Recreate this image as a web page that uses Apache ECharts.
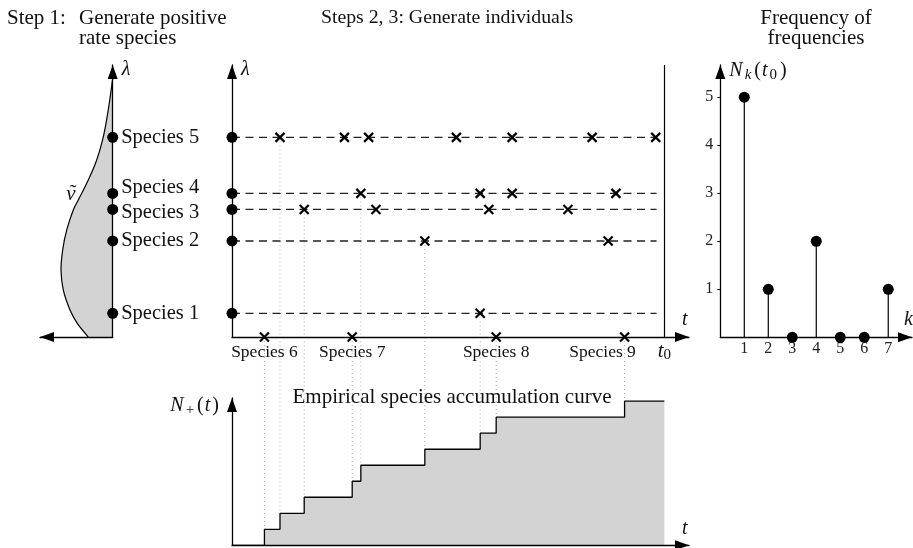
<!DOCTYPE html>
<html>
<head>
<meta charset="utf-8">
<script src="https://cdn.jsdelivr.net/npm/echarts@6.0.0/dist/echarts.min.js"></script>
<style>
  html, body { margin: 0; padding: 0; background: #fff; }
  #main { width: 913px; height: 548px; }
</style>
</head>
<body>
<div id="main"></div>
<script>
// rates of the five positive-rate species (lambda)
const speciesNames = ['Species 1', 'Species 2', 'Species 3', 'Species 4', 'Species 5'];
const speciesRate = [0.87, 3.53, 4.69, 5.28, 7.34];
// times at which each species is observed
const speciesEvents = [
  [57.4],
  [44.6, 87.0],
  [16.7, 33.3, 59.4, 77.7],
  [29.8, 57.4, 64.8, 88.8],
  [11.1, 26.0, 31.6, 51.9, 64.8, 83.3, 98.0]
];
// singletons that show up on the time axis
const newSpeciesNames = ['Species 6', 'Species 7', 'Species 8', 'Species 9'];
const newSpeciesTimes = [7.5, 27.8, 61.1, 90.8];
const t0 = 100;
const observedUntil = 98.2;

// density nu~ of the rates
const densityLambda = [0, 0.50, 0.99, 1.73, 2.46, 3.20, 3.93, 4.67, 5.04, 5.77, 6.51, 7.36, 8.35, 9.5];
const densityValue = [0.336, 0.487, 0.587, 0.680, 0.711, 0.688, 0.633, 0.542, 0.473, 0.336, 0.220, 0.129, 0.061, 0];

// species accumulation curve N+(t)
const accumTimes = [0, 7.5, 11.1, 16.7, 27.8, 29.8, 44.6, 57.4, 61.1, 90.8, 100];
const accumCount = [0, 1, 2, 3, 4, 5, 6, 7, 8, 9, 9];

// frequency of frequencies N_k(t0)
const freqK = [1, 2, 3, 4, 5, 6, 7];
const freqCount = [5, 1, 0, 2, 0, 0, 1];
const freqTicks = [1, 2, 3, 4, 5];

const SERIF = "'Liberation Serif', 'DejaVu Serif', serif";
const INK = '#111';

const math = {
  i: { fontFamily: SERIF, fontStyle: 'italic', fontSize: 20, color: INK, lineHeight: 24, padding: [0, 1, 0, 0] },
  n: { fontFamily: SERIF, fontSize: 20, color: INK, lineHeight: 24, padding: [0, 1, 0, 1] },
  s: { fontFamily: SERIF, fontSize: 15, color: INK, lineHeight: 12, verticalAlign: 'bottom', padding: [0, 2, 0, 1] },
  si: { fontFamily: SERIF, fontStyle: 'italic', fontSize: 15, color: INK, lineHeight: 12, verticalAlign: 'bottom', padding: [0, 2, 0, 1] },
  ti: { fontFamily: SERIF, fontStyle: 'italic', fontSize: 21, color: INK, lineHeight: 24 },
  ts: { fontFamily: SERIF, fontSize: 15, color: INK, lineHeight: 12, verticalAlign: 'bottom' }
};

function axisLine (atStart) {
  return {
    show: true,
    onZero: true,
    symbol: atStart ? ['triangle', 'none'] : ['none', 'triangle'],
    symbolSize: [10, 14],
    symbolOffset: atStart ? [7, 0] : [0, -7],
    lineStyle: { color: '#000', width: 1.3 }
  };
}

function plainAxis (opts, atStart) {
  return Object.assign({
    type: 'value',
    z: 3,
    axisLine: axisLine(atStart),
    axisTick: { show: false },
    axisLabel: { show: false },
    splitLine: { show: false }
  }, opts);
}

const titleFont = { fontFamily: SERIF, fontWeight: 'normal', fontSize: 21, color: INK, lineHeight: 20 };
const speciesLabelOffset = { 'Species 4': [0, -6], 'Species 3': [0, 3] };
const newLabelOffset = { 'Species 9': [-22, 0] };

// catmull-rom through the density samples
function smoothPath (pts) {
  let d = 'M' + pts[0][0] + ',' + pts[0][1];
  for (let i = 0; i < pts.length - 1; i++) {
    const p0 = pts[i - 1] || pts[i];
    const p1 = pts[i];
    const p2 = pts[i + 1];
    const p3 = pts[i + 2] || p2;
    const c1 = [p1[0] + (p2[0] - p0[0]) / 6, p1[1] + (p2[1] - p0[1]) / 6];
    const c2 = [p2[0] - (p3[0] - p1[0]) / 6, p2[1] - (p3[1] - p1[1]) / 6];
    d += 'C' + c1.join(',') + ' ' + c2.join(',') + ' ' + p2.join(',');
  }
  return d;
}

const chart = echarts.init(document.getElementById('main'));

const dashedSeries = speciesRate.map(function (lam) {
  return {
    type: 'line',
    xAxisIndex: 1,
    yAxisIndex: 1,
    symbol: 'none',
    silent: true,
    lineStyle: { color: '#222', width: 1.3, type: [8, 5.5] },
    data: [[0, lam], [observedUntil, lam]],
    z: 1
  };
});

const crossData = [];
speciesEvents.forEach(function (ev, i) {
  ev.forEach(function (t) { crossData.push([t, speciesRate[i]]); });
});

const CROSS = 'path://M0,0L10,10M10,0L0,10';
const crossStyle = { color: 'rgba(0,0,0,0)', borderColor: '#000', borderWidth: 2.2, opacity: 1 };

chart.setOption({
  animation: false,
  backgroundColor: '#fff',
  title: [
    { text: 'Step 1:', left: 7, top: 8, padding: 0, textStyle: titleFont },
    { text: 'Generate positive\nrate species', left: 79, top: 8, padding: 0, textStyle: titleFont },
    { text: 'Steps 2, 3: Generate individuals', left: 447, textAlign: 'center', top: 8, padding: 0, textStyle: Object.assign({}, titleFont, { fontSize: 19.8 }) },
    { text: 'Frequency of\nfrequencies', left: 816, textAlign: 'center', top: 8, padding: 0, textStyle: titleFont },
    { text: 'Empirical species accumulation curve', left: 452, textAlign: 'center', top: 387, padding: 0, textStyle: titleFont },
    { text: 'ν', left: 71, textAlign: 'center', top: 194, textVerticalAlign: 'middle', padding: 0, textStyle: { fontFamily: SERIF, fontStyle: 'italic', fontWeight: 'normal', fontSize: 21, color: INK } },
    { text: '˜', left: 73, textAlign: 'center', top: 193, textVerticalAlign: 'middle', padding: 0, textStyle: { fontFamily: SERIF, fontWeight: 'normal', fontSize: 21, color: INK } }
  ],
  grid: [
    { left: 40, top: 65, width: 72.7, height: 272, outerBoundsMode: 'none' },
    { left: 232, top: 65, width: 457, height: 272, outerBoundsMode: 'none' },
    { left: 232, top: 398, width: 457, height: 147.3, outerBoundsMode: 'none' },
    { left: 720.3, top: 65, width: 191.7, height: 272.3, outerBoundsMode: 'none' }
  ],
  xAxis: [
    // density axis points left: plotted as negative values
    plainAxis({ gridIndex: 0, min: -1, max: 0 }, true),
    plainAxis({
      gridIndex: 1, min: 0, max: 105.7,
      name: 't', nameLocation: 'end', nameGap: -7,
      nameTextStyle: { fontFamily: SERIF, fontStyle: 'italic', fontSize: 20, color: INK, align: 'left', verticalAlign: 'bottom', padding: [0, 0, 7, 0] },
      axisLabel: { show: true, customValues: [t0], margin: 2, formatter: function () { return '{ti|t}{ts|0}'; }, rich: math }
    }),
    plainAxis({
      gridIndex: 2, min: 0, max: 105.7,
      name: 't', nameLocation: 'end', nameGap: -7,
      nameTextStyle: { fontFamily: SERIF, fontStyle: 'italic', fontSize: 20, color: INK, align: 'left', verticalAlign: 'bottom', padding: [0, 0, 7, 0] }
    }),
    plainAxis({
      gridIndex: 3, min: 0, max: 7.99,
      name: 'k', nameLocation: 'end', nameGap: -8,
      nameTextStyle: { fontFamily: SERIF, fontStyle: 'italic', fontSize: 20, color: INK, align: 'left', verticalAlign: 'bottom', padding: [0, 0, 8, 0] },
      axisLabel: { show: true, customValues: freqK, margin: 3, fontFamily: SERIF, fontSize: 16, color: '#222' }
    })
  ],
  yAxis: [
    plainAxis({
      gridIndex: 0, min: 0, max: 10,
      name: 'λ', nameLocation: 'end', nameGap: 5,
      nameTextStyle: { fontFamily: SERIF, fontStyle: 'italic', fontSize: 20, color: INK, align: 'left', verticalAlign: 'top', padding: [0, 0, 0, 9] }
    }),
    plainAxis({
      gridIndex: 1, min: 0, max: 10,
      name: 'λ', nameLocation: 'end', nameGap: 5,
      nameTextStyle: { fontFamily: SERIF, fontStyle: 'italic', fontSize: 20, color: INK, align: 'left', verticalAlign: 'top', padding: [0, 0, 0, 9] }
    }),
    plainAxis({
      gridIndex: 2, min: 0, max: 9.2,
      name: '{i|N}{s|+}{n|(}{i|t}{n|)}', nameLocation: 'end', nameGap: 4,
      nameTextStyle: { align: 'right', verticalAlign: 'top', padding: [0, 12, 0, 0], rich: math }
    }),
    plainAxis({
      gridIndex: 3, min: 0, max: 5.67,
      name: '{i|N}{si|k}{n|(}{i|t}{s|0}{n|)}', nameLocation: 'end', nameGap: 6,
      nameTextStyle: { align: 'left', verticalAlign: 'top', padding: [0, 0, 0, 9], rich: math },
      axisTick: { show: true, customValues: freqTicks, length: 3, lineStyle: { color: '#000', width: 1 } },
      axisLabel: { show: true, customValues: freqTicks, margin: 7, fontFamily: SERIF, fontSize: 16, color: '#222' }
    })
  ],
  series: [
    {
      type: 'custom',
      xAxisIndex: 0,
      yAxisIndex: 0,
      silent: true,
      clip: false,
      data: [[0, 0]],
      renderItem: function (params, api) {
        const pts = densityLambda.map(function (lam, i) { return api.coord([-densityValue[i], lam]); });
        const curve = smoothPath(pts);
        const top = api.coord([0, densityLambda[densityLambda.length - 1]]);
        const bottom = api.coord([0, densityLambda[0]]);
        const fill = curve + 'L' + top.join(',') + 'L' + bottom.join(',') + 'Z';
        return {
          type: 'group',
          children: [
            { type: 'path', shape: { pathData: fill }, style: { fill: '#d3d3d3', stroke: 'none' } },
            { type: 'path', shape: { pathData: curve }, style: { fill: 'none', stroke: '#000', lineWidth: 1.2 } }
          ]
        };
      },
      z: 1
    },
    {
      type: 'scatter',
      xAxisIndex: 0,
      yAxisIndex: 0,
      symbolSize: 11,
      clip: false,
      itemStyle: { color: '#000', opacity: 1 },
      label: {
        show: true, position: 'right', distance: 3, formatter: '{b}',
        fontFamily: SERIF, fontSize: 20.5, color: INK
      },
      data: speciesRate.map(function (lam, i) {
        const item = { name: speciesNames[i], value: [0, lam] };
        if (speciesLabelOffset[speciesNames[i]]) item.label = { offset: speciesLabelOffset[speciesNames[i]] };
        return item;
      }),
      z: 5
    }
  ].concat(dashedSeries).concat([
    {
      type: 'scatter',
      xAxisIndex: 1,
      yAxisIndex: 1,
      symbolSize: 11,
      clip: false,
      itemStyle: { color: '#000', opacity: 1 },
      data: speciesRate.map(function (lam) { return [0, lam]; }),
      z: 5
    },
    {
      type: 'scatter',
      xAxisIndex: 1,
      yAxisIndex: 1,
      symbol: CROSS,
      symbolSize: 9,
      itemStyle: crossStyle,
      data: crossData,
      markLine: {
        silent: true,
        symbol: 'none',
        label: { show: false },
        lineStyle: { color: '#000', width: 1.2, type: 'solid' },
        data: [{ xAxis: t0 }]
      },
      z: 5
    },
    {
      type: 'scatter',
      xAxisIndex: 1,
      yAxisIndex: 1,
      symbol: CROSS,
      symbolSize: 9,
      clip: false,
      itemStyle: crossStyle,
      label: {
        show: true, position: 'bottom', distance: 1, formatter: '{b}',
        fontFamily: SERIF, fontSize: 17.5, color: INK
      },
      data: newSpeciesTimes.map(function (t, i) {
        const item = { name: newSpeciesNames[i], value: [t, 0] };
        if (newLabelOffset[newSpeciesNames[i]]) item.label = { offset: newLabelOffset[newSpeciesNames[i]] };
        return item;
      }),
      z: 5
    },
    {
      type: 'line',
      xAxisIndex: 2,
      yAxisIndex: 2,
      step: 'end',
      symbol: 'none',
      silent: true,
      clip: false,
      lineStyle: { color: '#000', width: 1.3 },
      areaStyle: { color: '#d3d3d3', opacity: 1 },
      data: accumTimes.map(function (t, i) { return [t, accumCount[i]]; })
    },
    {
      type: 'bar',
      xAxisIndex: 3,
      yAxisIndex: 3,
      barWidth: 1.2,
      silent: true,
      itemStyle: { color: '#000' },
      data: freqK.map(function (k, i) { return [k, freqCount[i]]; })
    },
    {
      type: 'scatter',
      xAxisIndex: 3,
      yAxisIndex: 3,
      symbolSize: 11,
      clip: false,
      itemStyle: { color: '#000', opacity: 1 },
      data: freqK.map(function (k, i) { return [k, freqCount[i]]; }),
      z: 5
    }
  ])
});

// dotted guides from each species' first sighting down to the accumulation curve
const firstSeen = speciesEvents.map(function (ev, i) { return [ev[0], speciesRate[i]]; })
  .concat(newSpeciesTimes.map(function (t) { return [t, 0]; }));
const guides = firstSeen.map(function (f) {
  const idx = accumTimes.indexOf(f[0]);
  const top = chart.convertToPixel({ gridIndex: 1 }, f);
  const bot = chart.convertToPixel({ gridIndex: 2 }, [f[0], accumCount[idx]]);
  return {
    type: 'line',
    silent: true,
    z: 0,
    shape: { x1: top[0], y1: top[1], x2: bot[0], y2: bot[1] },
    style: { stroke: '#aaa', lineWidth: 1, lineDash: [1, 3] }
  };
});
chart.setOption({ graphic: guides });
</script>
</body>
</html>
